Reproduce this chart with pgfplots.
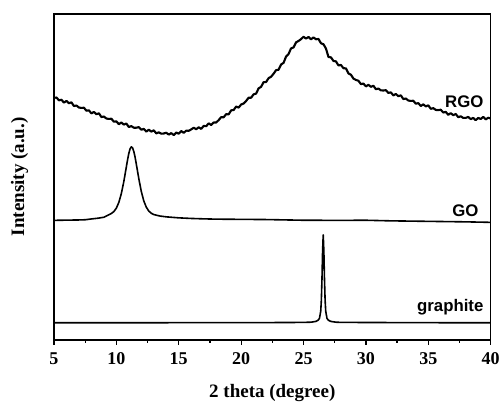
\documentclass[border=0pt]{standalone}
\usepackage{fontspec}
\setmainfont{Liberation Serif}
\setsansfont{Liberation Sans}
\usepackage{pgfplots}
\pgfplotsset{compat=1.18}
\newcommand\tl{\fontsize{18}{18}\selectfont\bfseries}

\begin{document}
\begin{tikzpicture}
\begin{axis}[
    scale only axis,
    width=437pt, height=326pt,
    xmin=5, xmax=40,
    ymin=0, ymax=326,
    xtick={5,10,...,40},
    xticklabels={\tl 5,\tl 10,\tl 15,\tl 20,\tl 25,\tl 30,\tl 35,\tl 40},
    minor xtick={7.5,12.5,...,37.5},
    ytick=\empty,
    tick align=outside,
    xtick pos=bottom,
    major tick length=5pt,
    minor tick length=3pt,
    every tick/.style={black, line width=1.2pt},
    axis line style={line width=1.5pt},
    xticklabel style={yshift=-4pt},
    xlabel={\bfseries 2 theta (degree)},
    ylabel={\bfseries Intensity (a.u.)},
    xlabel style={font=\fontsize{19}{19}\selectfont, at={(axis description cs:0.5,-0.1626)}, anchor=center},
    ylabel style={font=\fontsize{19}{19}\selectfont, at={(axis description cs:-0.079,0.5)}, anchor=center},
    clip=true,
]

% RGO
\addplot[black, line width=2.1pt, line join=round] coordinates {
(5.0,242.0) (5.2,242.4) (5.4,239.6) (5.6,240.2) (5.8,237.3) (6.0,239.0)
(6.2,236.7) (6.4,237.6) (6.6,233.9) (6.8,234.4) (7.0,232.4)
(7.2,232.0) (7.4,232.2) (7.6,229.2) (7.8,229.6) (8.0,226.5)
(8.2,228.0) (8.4,225.7) (8.6,226.6) (8.8,222.9) (9.0,223.4)
(9.2,221.4) (9.4,221.0) (9.6,221.2) (9.8,218.2) (10.0,218.6)
(10.2,215.7) (10.4,217.4) (10.6,215.3) (10.8,216.4) (11.0,212.9)
(11.2,213.8) (11.4,212.2) (11.6,212.2) (11.8,212.8) (12.0,210.2)
(12.2,211.0) (12.4,208.3) (12.6,210.2) (12.8,208.3) (13.0,209.6)
(13.2,206.5) (13.4,207.6) (13.6,206.2) (13.8,206.4) (14.0,207.2)
(14.2,205.3) (14.4,206.8) (14.6,204.8) (14.8,207.4) (15.0,206.2)
(15.2,208.9) (15.4,207.0) (15.6,209.3) (15.8,209.1) (16.0,210.5)
(16.2,212.2) (16.4,210.7) (16.6,212.6) (16.8,211.0) (17.0,214.0)
(17.2,213.7) (17.4,216.6) (17.6,214.9) (17.8,217.4) (18.0,217.4)
(18.2,219.8) (18.4,222.8) (18.6,222.6) (18.8,225.8) (19.0,225.5)
(19.2,229.6) (19.4,229.9) (19.6,233.4) (19.8,232.3) (20.0,235.4)
(20.2,236.4) (20.4,239.0) (20.6,242.2) (20.8,242.2) (21.0,245.6)
(21.2,246.3) (21.4,251.6) (21.6,253.1) (21.8,257.8) (22.0,257.9)
(22.2,261.8) (22.4,263.2) (22.6,266.2) (22.8,269.8) (23.0,270.2)
(23.2,275.4) (23.4,277.1) (23.6,283.4) (23.8,285.9) (24.0,291.6)
(24.2,292.5) (24.4,297.6) (24.6,299.0) (24.8,300.8) (25.0,303.2)
(25.2,301.4) (25.4,303.0) (25.6,300.7) (25.8,302.6) (26.0,300.7)
(26.2,301.0) (26.4,296.7) (26.6,295.7) (26.8,291.4) (27.0,283.0)
(27.2,282.6) (27.4,279.0) (27.6,278.6) (27.8,274.5) (28.0,275.0)
(28.2,271.7) (28.4,271.6) (28.6,266.5) (28.8,265.2) (29.0,261.4)
(29.2,260.0) (29.4,259.2) (29.6,255.8) (29.8,256.4) (30.0,253.5)
(30.2,255.2) (30.4,253.1) (30.6,254.2) (30.8,250.7) (31.0,251.4)
(31.2,249.6) (31.4,249.4) (31.6,249.8) (31.8,247.0) (32.0,247.6)
(32.2,244.5) (32.4,246.0) (32.6,243.7) (32.8,244.6) (33.0,240.9)
(33.2,241.4) (33.4,239.4) (33.6,239.0) (33.8,239.2) (34.0,236.2)
(34.2,236.8) (34.4,233.9) (34.6,235.6) (34.8,233.5) (35.0,234.6)
(35.2,231.1) (35.4,231.8) (35.6,230.0) (35.8,229.8) (36.0,230.2)
(36.2,227.4) (36.4,228.0) (36.6,225.1) (36.8,226.8) (37.0,224.7)
(37.2,226.0) (37.4,222.7) (37.6,223.6) (37.8,222.0) (38.0,222.0)
(38.2,223.0) (38.4,220.8) (38.6,222.0) (38.8,219.7) (39.0,222.0)
(39.2,220.9) (39.4,223.0) (39.6,220.5) (39.8,222.2) (40.0,221.4)
};

% GO
\addplot[black, line width=1.6pt, line join=round] coordinates {
(5.0,119.5) (6.0,119.7) (7.0,119.9) (7.5,120.1) (8.0,120.9) (8.5,121.6)
(9.0,122.6) (9.4,125.1) (9.6,126.4) (9.8,128.3) (10.0,131.7) (10.2,137.5)
(10.4,146.3) (10.6,158.4) (10.8,172.9) (10.9,180.2) (11.0,186.5) (11.1,191.1)
(11.2,193.0) (11.3,192.1) (11.4,188.4) (11.5,182.8) (11.6,175.8) (11.8,161.2)
(12.0,148.4) (12.2,138.9) (12.4,132.7) (12.6,128.8) (12.8,126.6) (13.0,125.3)
(13.5,123.8) (14.0,123.0) (15.0,122.0) (16.0,121.4) (17.0,121.0) (18.0,120.7)
(20.0,120.5) (22.0,120.3) (25.0,119.6) (28.0,119.5) (30.0,119.6) (32.0,119.0)
(35.0,118.5) (38.0,118.0) (40.0,117.5)
};

% graphite
\addplot[black, line width=1.6pt, line join=round] coordinates {
(5.0,17.0) (10.0,17.0) (15.0,17.1) (20.0,17.1) (24.0,17.3) (25.0,17.4)
(25.6,17.6) (26.0,18.4) (26.18,19.7) (26.28,21.5) (26.38,28.6) (26.43,39.8)
(26.48,61.0) (26.53,89.0) (26.58,105.0) (26.63,89.0) (26.68,61.0) (26.73,39.8)
(26.78,28.6) (26.88,21.5) (26.98,19.7) (27.18,18.4) (27.6,17.6) (28.0,17.4)
(30.0,17.3) (35.0,17.1) (40.0,17.0)
};

\node[anchor=base east, font=\sffamily\bfseries\fontsize{16.8}{16.8}\selectfont] at (axis cs:39.7,232.7) {RGO};
\node[anchor=base east, font=\sffamily\bfseries\fontsize{16.8}{16.8}\selectfont] at (axis cs:39.3,123.3) {GO};
\node[anchor=base east, font=\sffamily\bfseries\fontsize{16.8}{16.8}\selectfont] at (axis cs:39.7,28.0) {graphite};
\end{axis}
\path ([xshift=-54pt, yshift=-63pt]current axis.south west) rectangle ([xshift=12pt, yshift=14pt]current axis.north east);
\end{tikzpicture}
\end{document}
